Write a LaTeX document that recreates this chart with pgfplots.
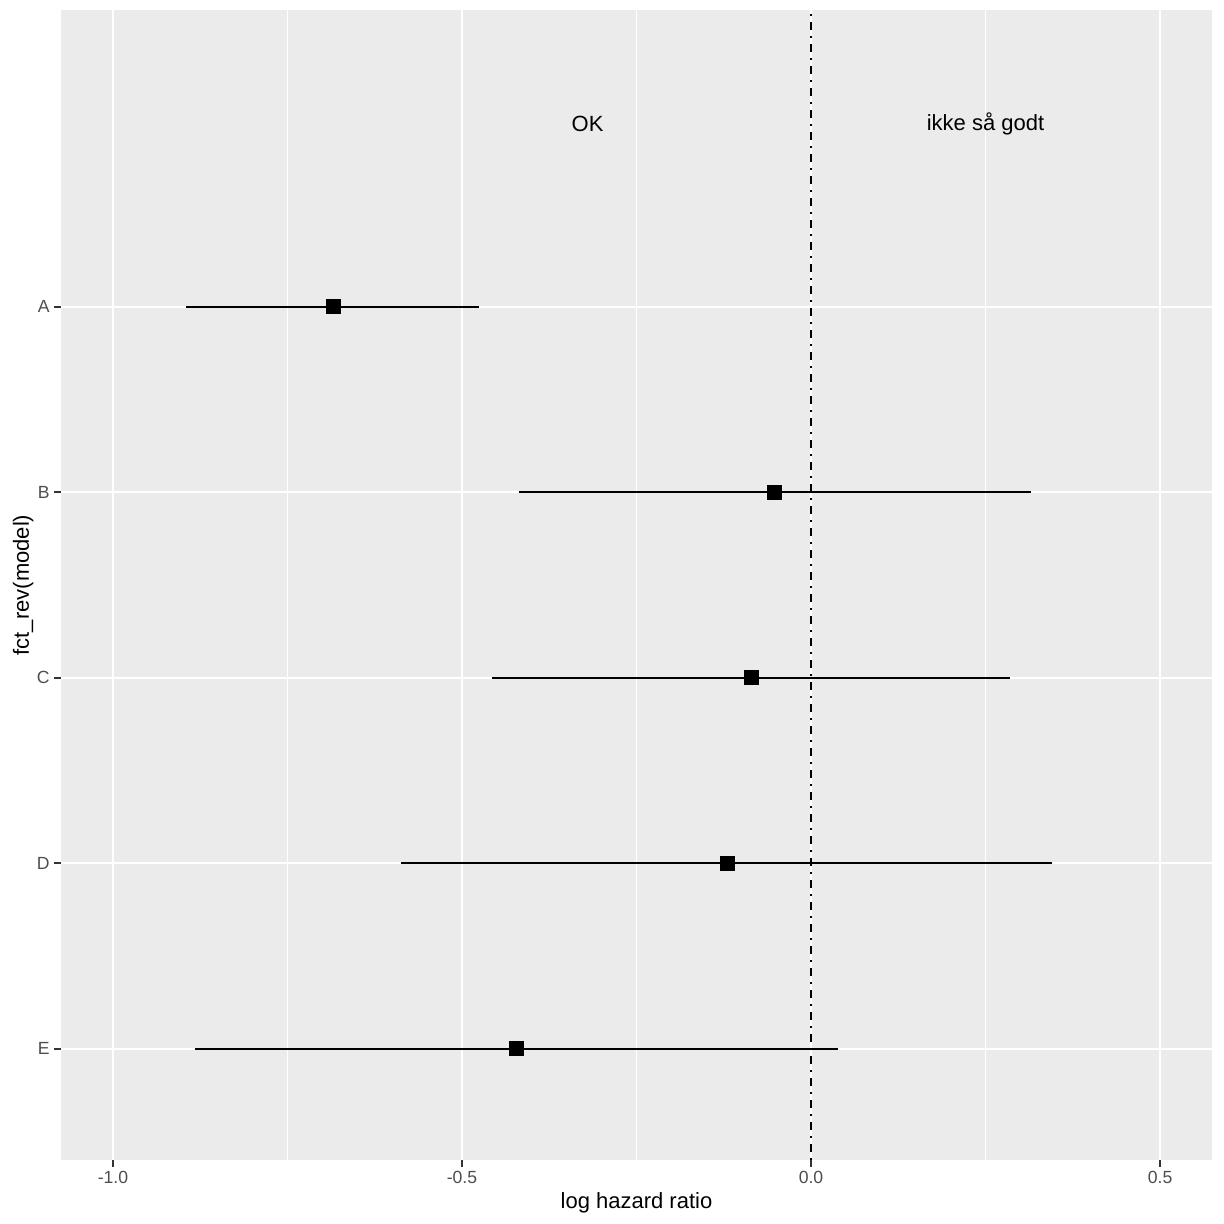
\documentclass[border=0pt]{standalone}
\usepackage{pgfplots}
\pgfplotsset{compat=1.18}
\usepackage{fontspec}
\setmainfont{Liberation Sans}
\definecolor{panelbg}{HTML}{EBEBEB}
\definecolor{grey30}{HTML}{4D4D4D}
\definecolor{grey20}{HTML}{333333}
\begin{document}
\begin{tikzpicture}
\begin{axis}[
  scale only axis,
  width=575.5pt, height=575pt,
  xmin=-1.0744, xmax=0.5744,
  ymin=0.4, ymax=6.6,
  axis background/.style={fill=panelbg},
  axis line style={draw=none},
  xtick={-1,-0.5,0,0.5},
  xticklabels={-1.0,-0.5,0.0,0.5},
  minor xtick={-0.75,-0.25,0.25},
  ytick={1,2,3,4,5},
  yticklabels={E,D,C,B,A},
  xtick pos=bottom, ytick pos=left,
  tick align=outside,
  major tick length=3.3pt,
  minor tick length=0pt,
  tick style={grey20, line width=1pt},
  xmajorgrids, xminorgrids, ymajorgrids,
  major grid style={white, line width=1.1pt},
  minor grid style={white, line width=0.55pt},
  ticklabel style={font=\fontsize{8.8}{10}\selectfont, text=grey30, inner sep=0pt},
  xticklabel style={yshift=-2pt},
  yticklabel style={xshift=-2.2pt},
  xlabel={log hazard ratio},
  ylabel={fct\_rev(model)},
  label style={font=\fontsize{11}{13}\selectfont},
  xlabel style={at={(axis description cs:0.5,0)}, anchor=base, yshift=-24pt},
  ylabel style={at={(axis description cs:-0.0278,0.5)}, anchor=base},
  clip=false,
]
\addplot[only marks, black, mark=square*, mark size=3.5pt, mark options={solid},
  error bars/.cd, x dir=both, x explicit, error mark=none,
  error bar style={line width=1.05pt, black}]
  table[x=x, y=y, x error plus=ep, x error minus=em] {
  x      y  em     ep
  -0.684 5  0.211  0.209
  -0.053 4  0.366  0.368
  -0.086 3  0.371  0.371
  -0.120 2  0.467  0.465
  -0.422 1  0.460  0.461
};
\addplot[black, line width=1.05pt, dash pattern=on 1pt off 3pt on 4pt off 3pt]
  coordinates {(0,0.4) (0,6.6)};
\node[font=\fontsize{11}{13}\selectfont, yshift=-1.5pt] at (axis cs:-0.32,6) {OK};
\node[font=\fontsize{11}{13}\selectfont, yshift=-1.5pt] at (axis cs:0.25,6) {ikke så godt};
\end{axis}
\pgfresetboundingbox
\path[use as bounding box] (-30.5pt,-32pt) rectangle (581.5pt,580pt);
\end{tikzpicture}
\end{document}
